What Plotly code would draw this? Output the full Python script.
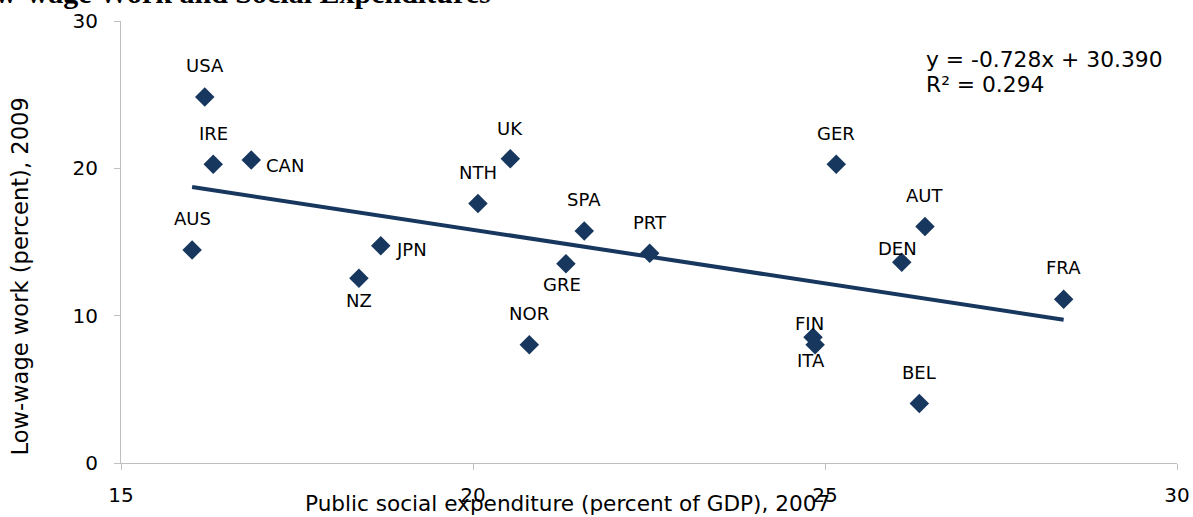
import plotly.graph_objects as go

# ---- data ----
countries = ["USA", "IRE", "CAN", "AUS", "NZ", "JPN", "NTH", "UK", "SPA", "GRE",
             "NOR", "PRT", "GER", "FIN", "ITA", "AUT", "DEN", "FRA", "BEL"]
social_expenditure = [16.19, 16.31, 16.85, 16.01, 18.38, 18.69, 20.07, 20.53, 21.58, 21.32,
                      20.80, 22.51, 25.16, 24.83, 24.86, 26.42, 26.09, 28.39, 26.34]
low_wage_work = [24.85, 20.27, 20.56, 14.46, 12.54, 14.75, 17.62, 20.65, 15.75, 13.53,
                 8.02, 14.23, 20.27, 8.54, 8.02, 16.06, 13.62, 11.12, 4.04]

trend_slope = -0.728
trend_intercept = 30.390
r_squared = 0.294

x_ticks = [15, 20, 25, 30]
y_ticks = [0, 10, 20, 30]

# ---- label placement (pixels: dx right, dy down) ----
label_offsets = {
    "USA": (0, -31), "IRE": (0, -31), "CAN": ("right", 5), "AUS": (0, -31),
    "NZ": (0, 22), "JPN": ("right", 4), "NTH": (0, -31), "UK": (0, -30),
    "SPA": (0, -31), "GRE": (-4, 21), "NOR": (0, -31), "PRT": (0, -31),
    "GER": (0, -31), "FIN": (-4, -14), "ITA": (-4, 16), "AUT": (0, -31),
    "DEN": (-4, -14), "FRA": (0, -32), "BEL": (0, -31),
}

NAVY = "#17375E"
FONT = "DejaVu Sans"

fig = go.Figure()

# trend line over the data span
x_lo, x_hi = min(social_expenditure), max(social_expenditure)
fig.add_trace(go.Scatter(
    x=[x_lo, x_hi],
    y=[trend_slope * x_lo + trend_intercept, trend_slope * x_hi + trend_intercept],
    mode="lines", line=dict(color=NAVY, width=4), hoverinfo="skip", showlegend=False,
))

fig.add_trace(go.Scatter(
    x=social_expenditure, y=low_wage_work, mode="markers",
    marker=dict(symbol="diamond", size=15, color=NAVY),
    text=countries, showlegend=False,
))

annotations = []
for c, xv, yv in zip(countries, social_expenditure, low_wage_work):
    dx, dy = label_offsets[c]
    if dx == "right":
        annotations.append(dict(x=xv, y=yv, xref="x", yref="y", text=c, showarrow=False,
                                xanchor="left", yanchor="middle", xshift=13, yshift=-dy,
                                font=dict(family=FONT, size=18, color="#000000")))
    else:
        annotations.append(dict(x=xv, y=yv, xref="x", yref="y", text=c, showarrow=False,
                                xanchor="center", yanchor="middle", xshift=dx, yshift=-dy,
                                font=dict(family=FONT, size=18, color="#000000")))

# regression equation
annotations.append(dict(x=0.7605, y=0.912, xref="paper", yref="paper", showarrow=False,
                        xanchor="left", yanchor="middle",
                        text=f"y = {trend_slope:.3f}x + {trend_intercept:.3f}",
                        font=dict(family=FONT, size=21.8, color="#000000")))
annotations.append(dict(x=0.7605, y=0.857, xref="paper", yref="paper", showarrow=False,
                        xanchor="left", yanchor="middle",
                        text=f"R² = {r_squared:.3f}",
                        font=dict(family=FONT, size=21.8, color="#000000")))

# axis titles (offset as in the reference)
annotations.append(dict(x=0.423, y=-0.0905, xref="paper", yref="paper", showarrow=False,
                        xanchor="center", yanchor="middle",
                        text="Public social expenditure (percent of GDP), 2007",
                        font=dict(family=FONT, size=21.6, color="#000000")))
annotations.append(dict(x=-0.0956, y=0.422, xref="paper", yref="paper", showarrow=False,
                        xanchor="center", yanchor="middle", textangle=-90,
                        text="Low-wage work (percent), 2009",
                        font=dict(family=FONT, size=22.6, color="#000000")))

# clipped chart title at the very top
annotations.append(dict(x=0.3523, y=1.023, xref="paper", yref="paper", showarrow=False,
                        xanchor="right", yanchor="bottom",
                        text="<b>Low-wage Work and Social Expenditures</b>",
                        font=dict(family="Liberation Serif", size=30, color="#000000")))

fig.update_layout(
    template="none",
    width=1193, height=517,
    margin=dict(l=121, r=16, t=21, b=54, autoexpand=False),
    paper_bgcolor="white", plot_bgcolor="white",
    annotations=annotations,
    showlegend=False,
    xaxis=dict(range=[15, 30], tickvals=x_ticks, showgrid=False, zeroline=False,
               automargin=False,
               showline=True, linecolor="#BFBFBF", linewidth=1,
               ticks="outside", ticklen=6, tickcolor="#BFBFBF",
               ticklabelstandoff=8,
               tickfont=dict(family=FONT, size=20, color="#000000")),
    yaxis=dict(range=[0, 30], tickvals=y_ticks, showgrid=False, zeroline=False,
               automargin=False,
               showline=True, linecolor="#BFBFBF", linewidth=1,
               ticks="outside", ticklen=6, tickcolor="#BFBFBF",
               ticklabelstandoff=12,
               tickfont=dict(family=FONT, size=20, color="#000000")),
    font=dict(family=FONT),
)

fig.write_html("out.html", config={"displayModeBar": False},
               post_script="document.body.style.margin='0';")
